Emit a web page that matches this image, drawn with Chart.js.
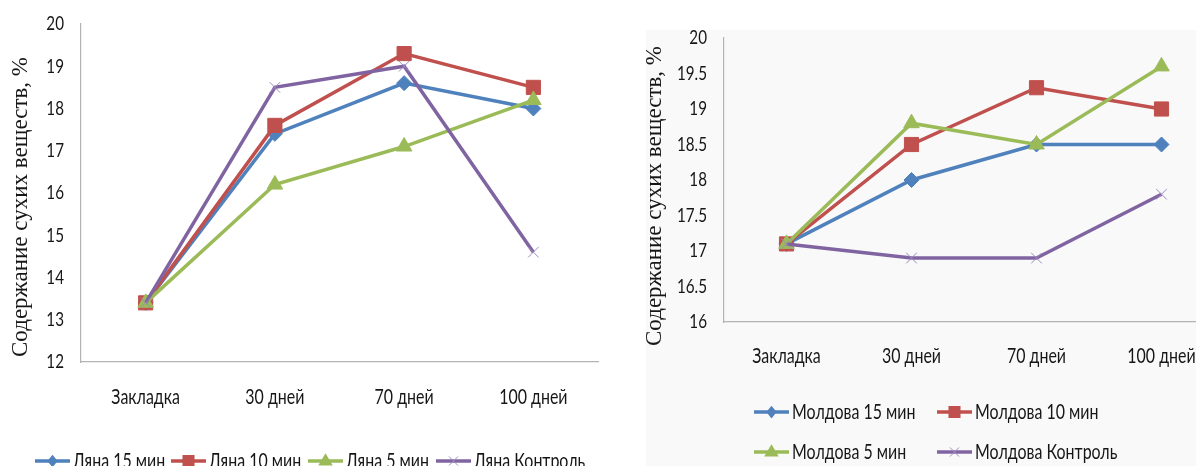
<!DOCTYPE html>
<html lang="ru">
<head>
<meta charset="utf-8">
<title>Содержание сухих веществ</title>
<script src="https://cdn.jsdelivr.net/npm/chart.js@4.4.1/dist/chart.umd.min.js"></script>
<style>
  html, body { margin: 0; padding: 0; background: #ffffff; }
  body { width: 1196px; height: 466px; overflow: hidden; position: relative; }
  #panelRight { position: absolute; left: 646px; top: 30px; right: 0; bottom: 0; background: #f9f9f9; }
  canvas { position: absolute; top: 0; }
  #chartLeft { left: 0; }
  #chartRight { left: 600px; }
</style>
</head>
<body>
<div id="panelRight"></div>
<canvas id="chartLeft" width="610" height="466"></canvas>
<canvas id="chartRight" width="640" height="466"></canvas>
<script>
// Storage periods
const categories = ['Закладка', '30 дней', '70 дней', '100 дней'];

// Variety "Ляна": dry matter content, %
const lyana15 = [13.4, 17.4, 18.6, 18.0];
const lyana10 = [13.4, 17.6, 19.3, 18.5];
const lyana5 = [13.4, 16.2, 17.1, 18.2];
const lyanaControl = [13.4, 18.5, 19.0, 14.6];
const lyanaNames = ['Ляна 15 мин', 'Ляна 10 мин', 'Ляна 5 мин', 'Ляна Контроль'];

// Variety "Молдова": dry matter content, %
const moldova15 = [17.1, 18.0, 18.5, 18.5];
const moldova10 = [17.1, 18.5, 19.3, 19.0];
const moldova5 = [17.1, 18.8, 18.5, 19.6];
const moldovaControl = [17.1, 16.9, 16.9, 17.8];
const moldovaNames = ['Молдова 15 мин', 'Молдова 10 мин', 'Молдова 5 мин', 'Молдова Контроль'];

// Value axis ranges
const lyanaAxis = { min: 12, max: 20, step: 1 };
const moldovaAxis = { min: 16, max: 20, step: 0.5 };

const yTitle = 'Содержание сухих веществ, %';

const SANS = "Lato, 'Open Sans', sans-serif";
const SERIF = "'Liberation Serif', 'DejaVu Serif', serif";
const SANS_SQUEEZE = 0.76;   // condensed look of the label face
const AXIS_COLOR = '#b3b3b3';
const TEXT_COLOR = '#161616';

// Series look: 15 min, 10 min, 5 min, control
const seriesStyles = [
  { color: '#4f81bd', pointStyle: 'rectRot', radius: 7.5, borderWidth: 1 },
  { color: '#c0504d', pointStyle: 'rect', radius: 10, borderWidth: 1 },
  { color: '#9bbb59', pointStyle: 'triangle', radius: 9, borderWidth: 1 },
  { color: '#8064a2', pointStyle: 'crossRot', radius: 7.5, borderWidth: 1, markerColor: '#9d8bbd' }
];

function makeDatasets(names, series) {
  return series.map((values, i) => {
    const s = seriesStyles[i];
    return {
      label: names[i],
      data: values,
      borderColor: s.color,
      backgroundColor: s.color,
      borderWidth: 3.5,
      tension: 0,
      pointStyle: s.pointStyle,
      pointRadius: s.radius,
      pointHoverRadius: s.radius,
      pointBorderWidth: s.borderWidth,
      pointBackgroundColor: s.markerColor || s.color,
      pointBorderColor: s.markerColor || s.color,
      order: series.length - i
    };
  });
}

// Condensed sans text: horizontally squeezed around the anchor point
function sansText(ctx, text, x, y, size, align) {
  ctx.save();
  ctx.font = size + 'px ' + SANS;
  ctx.fillStyle = TEXT_COLOR;
  ctx.textAlign = align;
  ctx.textBaseline = 'middle';
  ctx.translate(x, y);
  ctx.scale(SANS_SQUEEZE, 1);
  ctx.fillText(text, 0, 0);
  ctx.restore();
}

// Legend marker (series symbol)
function drawMarker(ctx, style, x, y, r) {
  const c = style.markerColor || style.color;
  ctx.save();
  ctx.fillStyle = c;
  ctx.strokeStyle = c;
  ctx.lineWidth = 1;
  ctx.beginPath();
  if (style.pointStyle === 'rect') {
    const h = r * Math.SQRT1_2;
    ctx.rect(x - h, y - h, 2 * h, 2 * h);
    ctx.fill();
  } else if (style.pointStyle === 'rectRot') {
    ctx.moveTo(x, y - r);
    ctx.lineTo(x + r * 0.8, y);
    ctx.lineTo(x, y + r);
    ctx.lineTo(x - r * 0.8, y);
    ctx.closePath();
    ctx.fill();
  } else if (style.pointStyle === 'triangle') {
    ctx.moveTo(x, y - r);
    ctx.lineTo(x + r * 0.95, y + r * 0.6);
    ctx.lineTo(x - r * 0.95, y + r * 0.6);
    ctx.closePath();
    ctx.fill();
  } else {
    const d = r * Math.SQRT1_2;
    ctx.moveTo(x - d, y - d); ctx.lineTo(x + d, y + d);
    ctx.moveTo(x + d, y - d); ctx.lineTo(x - d, y + d);
    ctx.stroke();
  }
  ctx.restore();
}

// Draws tick labels, the rotated value-axis title and the line+symbol legend
const decorPlugin = {
  id: 'decor',
  afterDraw(chart, args, opts) {
    const ctx = chart.ctx;
    const xs = chart.scales.x;
    const ys = chart.scales.y;

    // value axis labels
    ys.ticks.forEach(t => {
      sansText(ctx, String(t.value), ys.right - 17, ys.getPixelForValue(t.value), 20, 'right');
    });
    // category labels
    categories.forEach((c, i) => {
      sansText(ctx, c, xs.getPixelForValue(i), xs.top + opts.catGap, 21, 'center');
    });

    // axis title
    ctx.save();
    ctx.fillStyle = TEXT_COLOR;
    ctx.font = opts.titleFont;
    ctx.textAlign = 'center';
    ctx.textBaseline = 'middle';
    ctx.translate(opts.titleX, opts.titleY);
    ctx.rotate(-Math.PI / 2);
    ctx.fillText(opts.title, 0, 0);
    ctx.restore();

    // legend
    chart.data.datasets.forEach((ds, i) => {
      const pos = opts.legendPos[i];
      const s = seriesStyles[i];
      ctx.save();
      ctx.strokeStyle = s.color;
      ctx.lineWidth = 3.5;
      ctx.beginPath();
      ctx.moveTo(pos.x, pos.y);
      ctx.lineTo(pos.x + 35, pos.y);
      ctx.stroke();
      ctx.restore();
      drawMarker(ctx, s, pos.x + 17.5, pos.y, s.radius * 0.85);
      sansText(ctx, ds.label, pos.x + 38, pos.y, 21, 'left');
    });
  }
};

function makeChart(canvasId, names, series, axis, geom) {
  return new Chart(document.getElementById(canvasId), {
    type: 'line',
    data: { labels: categories, datasets: makeDatasets(names, series) },
    options: {
      responsive: false,
      animation: false,
      events: [],
      layout: { padding: { left: 0, right: geom.padRight, top: geom.top, bottom: 0 } },
      plugins: {
        legend: { display: false },
        tooltip: { enabled: false },
        decor: geom.decor
      },
      scales: {
        x: {
          offset: true,
          grid: { display: false, drawTicks: false },
          border: { display: true, color: AXIS_COLOR, width: 1.2 },
          ticks: { display: false },
          afterFit(scale) { scale.height = geom.xHeight; }
        },
        y: {
          min: axis.min,
          max: axis.max,
          grid: { display: false, drawTicks: false },
          border: { display: true, color: AXIS_COLOR, width: 1.2 },
          ticks: { display: false, stepSize: axis.step },
          afterFit(scale) { scale.width = geom.yWidth; }
        }
      }
    },
    plugins: [decorPlugin]
  });
}

makeChart('chartLeft', lyanaNames, [lyana15, lyana10, lyana5, lyanaControl], lyanaAxis, {
  top: 24, padRight: 12, xHeight: 104, yWidth: 81,
  decor: {
    catGap: 35,
    title: yTitle, titleX: 21, titleY: 207, titleFont: '23px ' + SERIF,
    legendPos: [{ x: 35, y: 461 }, { x: 171, y: 461 }, { x: 308, y: 461 }, { x: 436, y: 461 }]
  }
});

makeChart('chartRight', moldovaNames, [moldova15, moldova10, moldova5, moldovaControl], moldovaAxis, {
  top: 38, padRight: 16, xHeight: 144, yWidth: 124,
  decor: {
    catGap: 34,
    title: yTitle, titleX: 55, titleY: 196, titleFont: '23px ' + SERIF,
    legendPos: [{ x: 154, y: 412 }, { x: 337, y: 412 }, { x: 154, y: 452 }, { x: 337, y: 452 }]
  }
});
</script>
</body>
</html>
